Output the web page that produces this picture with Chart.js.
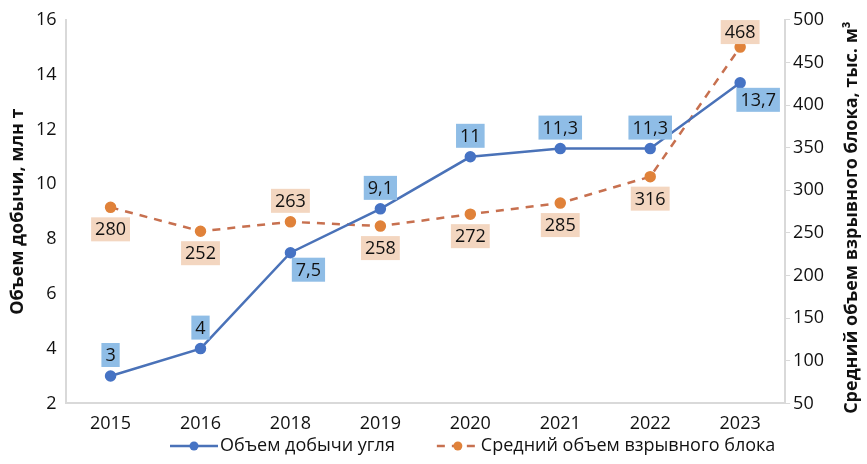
<!DOCTYPE html>
<html>
<head>
<meta charset="utf-8">
<script src="https://cdn.jsdelivr.net/npm/chart.js@4.4.1/dist/chart.umd.min.js"></script>
<style>
  html, body { margin: 0; padding: 0; background: #fff; }
  #wrap { width: 867px; height: 464px; }
</style>
</head>
<body>
<div id="wrap"><canvas id="chart"></canvas></div>
<script>
// данные с графика
const years = ['2015', '2016', '2018', '2019', '2020', '2021', '2022', '2023'];
const coalOutput = [3, 4, 7.5, 9.1, 11, 11.3, 11.3, 13.7];
const blockVolume = [280, 252, 263, 258, 272, 285, 316, 468];

// где ставить подписи значений
const coalLabelPlace = ['top', 'top', 'right', 'top', 'top', 'top', 'top', 'right'];
const blockLabelPlace = ['bottom', 'bottom', 'top', 'bottom', 'bottom', 'bottom', 'bottom', 'top'];

const FONT = '"Open Sans", "Noto Sans", sans-serif';
const FS = 18;
const BLUE = '#4a72b8';
const ORANGE = '#e0823a';
const DASH = '#c7704f';

const fmt = v => String(v).replace('.', ',');

// подписи значений в цветных прямоугольниках
const valueLabels = {
    id: 'valueLabels',
    afterDatasetsDraw(chart) {
        const ctx = chart.ctx;
        ctx.save();
        ctx.font = FS + 'px ' + FONT;
        ctx.textAlign = 'center';
        ctx.textBaseline = 'middle';
        chart.data.datasets.forEach((ds, di) => {
            const meta = chart.getDatasetMeta(di);
            const places = di === 0 ? coalLabelPlace : blockLabelPlace;
            meta.data.forEach((pt, i) => {
                const txt = fmt(ds.data[i]);
                let x = pt.x, y = pt.y;
                if (places[i] === 'top') y -= (i === places.length - 1 ? 15 : 21);
                else if (places[i] === 'bottom') y += 22;
                else { x += 18; y += 17; }
                const w = ctx.measureText(txt).width + 8;
                const h = 24;
                ctx.fillStyle = ds.labelFill;
                ctx.fillRect(x - w / 2, y - h / 2, w, h);
                ctx.fillStyle = '#111';
                ctx.fillText(txt, x, y + 1);
            });
        });
        ctx.restore();
    }
};

// заголовок правой оси снизу вверх и легенда внизу
const extras = {
    id: 'extras',
    afterDraw(chart) {
        const ctx = chart.ctx;
        const a = chart.chartArea;
        ctx.save();
        ctx.translate(chart.width - 15, (a.top + a.bottom) / 2 + 6);
        ctx.rotate(-Math.PI / 2);
        ctx.font = 'bold ' + FS + 'px ' + FONT;
        ctx.fillStyle = '#111';
        ctx.textAlign = 'center';
        ctx.textBaseline = 'middle';
        ctx.fillText('Средний объем взрывного блока, тыс. м³', 0, 0);
        ctx.restore();

        // легенда
        ctx.save();
        ctx.font = FS + 'px ' + FONT;
        ctx.textBaseline = 'middle';
        ctx.textAlign = 'left';
        const y = 446;
        let x = 170;
        chart.data.datasets.forEach((ds, i) => {
            const len = ds.borderDash ? 42 : 48;
            ctx.strokeStyle = ds.borderColor;
            ctx.lineWidth = 2.5;
            ctx.setLineDash(ds.borderDash || []);
            ctx.beginPath();
            ctx.moveTo(x, y);
            ctx.lineTo(x + len, y);
            ctx.stroke();
            ctx.setLineDash([]);
            ctx.fillStyle = ds.pointBackgroundColor;
            ctx.beginPath();
            ctx.arc(x + len / 2, y, 4.5, 0, Math.PI * 2);
            ctx.fill();
            ctx.fillStyle = '#111';
            ctx.fillText(ds.label, x + len + 2, y);
            x += len + 2 + ctx.measureText(ds.label).width + 42;
        });
        ctx.restore();
    }
};

const ctx = document.getElementById('chart').getContext('2d');
const chart = new Chart(ctx, {
    type: 'line',
    data: {
        labels: years,
        datasets: [{
            label: 'Объем добычи угля',
            data: coalOutput,
            yAxisID: 'y',
            borderColor: BLUE,
            backgroundColor: BLUE,
            pointBackgroundColor: '#4673c4',
            pointBorderColor: '#4673c4',
            borderWidth: 2.5,
            pointRadius: 4.5,
            labelFill: '#8fbde6'
        }, {
            label: 'Средний объем взрывного блока',
            data: blockVolume,
            yAxisID: 'y1',
            borderColor: DASH,
            backgroundColor: ORANGE,
            pointBackgroundColor: ORANGE,
            pointBorderColor: ORANGE,
            borderDash: [8, 7],
            borderWidth: 2.5,
            pointRadius: 4.5,
            labelFill: '#f3d6c0'
        }]
    },
    options: {
        responsive: true,
        maintainAspectRatio: false,
        animation: false,
        layout: { padding: { top: 16, right: 40, left: 9, bottom: 19 } },
        plugins: {
            tooltip: { enabled: false },
            legend: { display: false }
        },
        scales: {
            x: {
                offset: true,
                grid: { display: false, drawTicks: false },
                border: { display: true, color: '#d9d9d9', width: 2 },
                ticks: { color: '#111', font: { family: FONT, size: FS }, padding: 10 }
            },
            y: {
                position: 'left',
                min: 2,
                max: 16,
                grid: { display: false, drawTicks: false },
                border: { display: true, color: '#d9d9d9', width: 2 },
                ticks: { stepSize: 2, color: '#111', font: { family: FONT, size: FS }, padding: 9 },
                title: {
                    display: true,
                    text: 'Объем добычи, млн т',
                    color: '#111',
                    font: { family: FONT, size: FS, weight: 'bold', lineHeight: 1 },
                    padding: { top: 0, bottom: 0 }
                }
            },
            y1: {
                position: 'right',
                min: 50,
                max: 500,
                grid: { display: true, drawOnChartArea: false, drawTicks: true, tickLength: 5, color: '#d9d9d9' },
                border: { display: true, color: '#d9d9d9', width: 2 },
                ticks: { stepSize: 50, color: '#111', font: { family: FONT, size: FS }, padding: 3 }
            }
        }
    },
    plugins: [valueLabels, extras]
});
</script>
</body>
</html>
